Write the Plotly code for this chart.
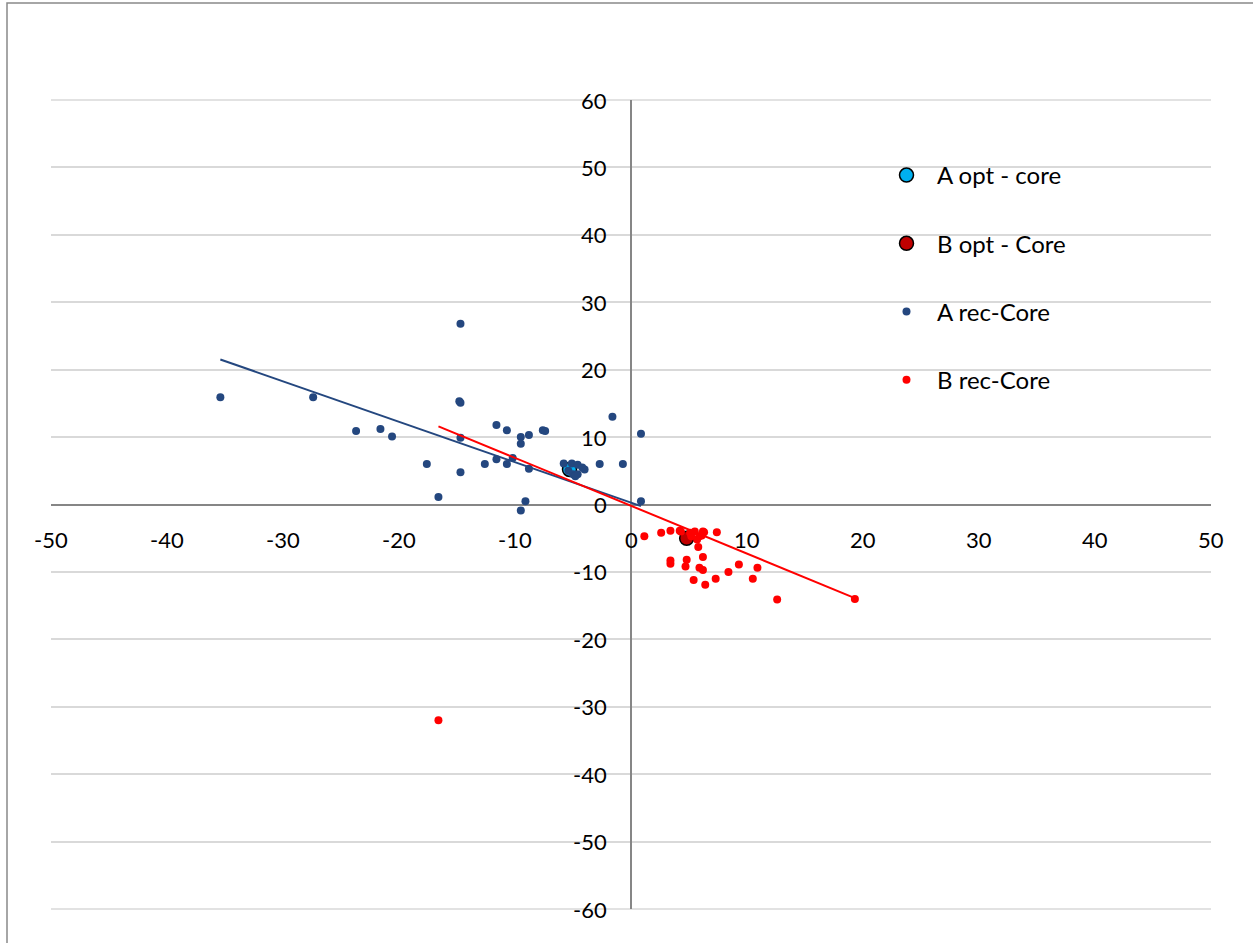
import plotly.graph_objects as go

# ---------------- data ----------------
a_opt_x = [-5.3]
a_opt_y = [5.2]
b_opt_x = [4.8]
b_opt_y = [-5.0]

a_rec_x = [-35.4, -27.4, -23.7, -21.6, -20.6, -17.6, -16.6, -14.7, -14.8, -14.7,
           -14.7, -14.7, -11.6, -10.7, -9.5, -9.5, -8.8, -7.6, -7.4, -1.6,
           0.86, -12.6, -11.6, -10.7, -10.2, -8.8, -9.1, -9.5, -2.7, -0.7,
           0.86, -5.8, -5.1, -4.6, -4.0, -5.0, -4.6, -4.2, -5.4, -4.8]
a_rec_y = [15.9, 15.9, 10.9, 11.2, 10.1, 6.0, 1.1, 26.8, 15.3, 15.1,
           9.9, 4.8, 11.8, 11.0, 10.0, 9.0, 10.3, 11.0, 10.9, 13.0,
           10.5, 6.0, 6.7, 6.0, 6.9, 5.3, 0.5, -0.9, 6.0, 6.0,
           0.5, 6.1, 6.1, 5.9, 5.2, 4.5, 4.5, 5.5, 5.0, 4.2]

b_rec_x = [1.15, 2.6, 3.4, 4.3, 5.1, 5.5, 5.9, 6.3, 6.1, 5.8,
           7.4, 3.4, 3.4, 4.8, 4.7, 6.2, 5.9, 6.2, 5.4, 6.4,
           7.3, 8.4, 9.3, 10.5, 10.9, 12.6, 19.3, -16.6, 4.2, 5.2,
           5.7, 6.2]
b_rec_y = [-4.7, -4.2, -3.9, -4.0, -4.2, -4.0, -4.7, -4.1, -4.6, -6.3,
           -4.1, -8.3, -8.8, -8.2, -9.2, -7.8, -9.4, -9.7, -11.2, -11.9,
           -11.0, -10.0, -8.9, -11.0, -9.4, -14.1, -14.0, -32.0, -3.9, -4.7,
           -5.2, -4.0]

# trendline coefficients (slope, intercept)
trend_a_coef = [-0.60, 0.27]
trend_b_coef = [-0.71, -0.19]

x_ticks = [-50, -40, -30, -20, -10, 0, 10, 20, 30, 40, 50]
y_ticks = [60, 50, 40, 30, 20, 10, 0, -10, -20, -30, -40, -50, -60]

# ---------------- style ----------------
BLUE = "#24477F"
RED = "#FF0000"
FONT = "Lato"


def trend(xs, coef):
    k, b = coef
    x0, x1 = min(xs), max(xs)
    return [x0, x1], [k * x0 + b, k * x1 + b]


ta_x, ta_y = trend(a_rec_x, trend_a_coef)
tb_x, tb_y = trend(b_rec_x, trend_b_coef)

fig = go.Figure()
fig.add_trace(go.Scatter(x=a_opt_x, y=a_opt_y, mode="markers", name="A opt - core",
                         legendgroup="g1",
                         marker=dict(size=14, color="#00B0F0", line=dict(color="black", width=1.5))))
fig.add_trace(go.Scatter(x=b_opt_x, y=b_opt_y, mode="markers", name="B opt - Core",
                         legendgroup="g2",
                         marker=dict(size=14, color="#C00000", line=dict(color="black", width=1.5))))
fig.add_trace(go.Scatter(x=a_rec_x, y=a_rec_y, mode="markers", name="A rec-Core",
                         legendgroup="g3",
                         marker=dict(size=8, color=BLUE, line=dict(width=0))))
fig.add_trace(go.Scatter(x=b_rec_x, y=b_rec_y, mode="markers", name="B rec-Core",
                         legendgroup="g4",
                         marker=dict(size=8, color=RED, line=dict(width=0))))
fig.add_trace(go.Scatter(x=ta_x, y=ta_y, mode="lines", showlegend=False,
                         line=dict(color=BLUE, width=2), hoverinfo="skip"))
fig.add_trace(go.Scatter(x=tb_x, y=tb_y, mode="lines", showlegend=False,
                         line=dict(color=RED, width=2), hoverinfo="skip"))

annotations = []
for v in y_ticks:
    annotations.append(dict(x=0, y=v, xref="x", yref="y", text=str(v), showarrow=False,
                            xanchor="right", yanchor="middle", xshift=-22,
                            font=dict(family=FONT, size=22, color="black")))
for v in x_ticks:
    annotations.append(dict(x=v, y=0, xref="x", yref="y", text=str(v), showarrow=False,
                            xanchor="center", yanchor="middle", yshift=-35,
                            font=dict(family=FONT, size=22, color="black")))

L, R, T, B = 51, 42, 100, 34
W, H = 1253, 943
pw, ph = W - L - R, H - T - B
ymin, ymax = min(y_ticks), max(y_ticks)

shapes = [dict(type="rect", xref="paper", yref="paper",
               x0=(7 - L) / pw, x1=(W + 20 - L) / pw,
               y0=(H - B - (H + 20)) / ph, y1=(H - B - 3) / ph,
               line=dict(color="#898989", width=1.5), fillcolor="rgba(0,0,0,0)",
               layer="below")]
# edge gridlines (plotly omits them at range limits)
for v in (ymax, ymin):
    py = (v - ymin) / (ymax - ymin)
    shapes.append(dict(type="line", xref="paper", yref="paper", x0=0, x1=1, y0=py, y1=py,
                       line=dict(color="#D9D9D9", width=1.5), layer="below"))

fig.update_layout(
    width=W, height=H,
    margin=dict(l=L, r=R, t=T, b=B, pad=0),
    paper_bgcolor="white", plot_bgcolor="white",
    font=dict(family=FONT, size=20, color="black"),
    xaxis=dict(range=[-50, 50], showgrid=False, zeroline=True, zerolinecolor="#868686",
               zerolinewidth=1.5, showticklabels=False, ticks="", showline=False),
    yaxis=dict(range=[ymin, ymax], dtick=10, showgrid=True, gridcolor="#D9D9D9", gridwidth=1.5,
               zeroline=True, zerolinecolor="#868686", zerolinewidth=1.5,
               showticklabels=False, ticks="", showline=False),
    showlegend=True,
    legend=dict(x=(876 - L) / pw, y=(H - B - 153) / ph, xanchor="left", yanchor="top",
                bgcolor="rgba(0,0,0,0)", font=dict(family=FONT, size=24),
                tracegroupgap=34, itemsizing="trace", itemwidth=51),
    annotations=annotations,
    shapes=shapes,
)

fig.write_html("out.html")
